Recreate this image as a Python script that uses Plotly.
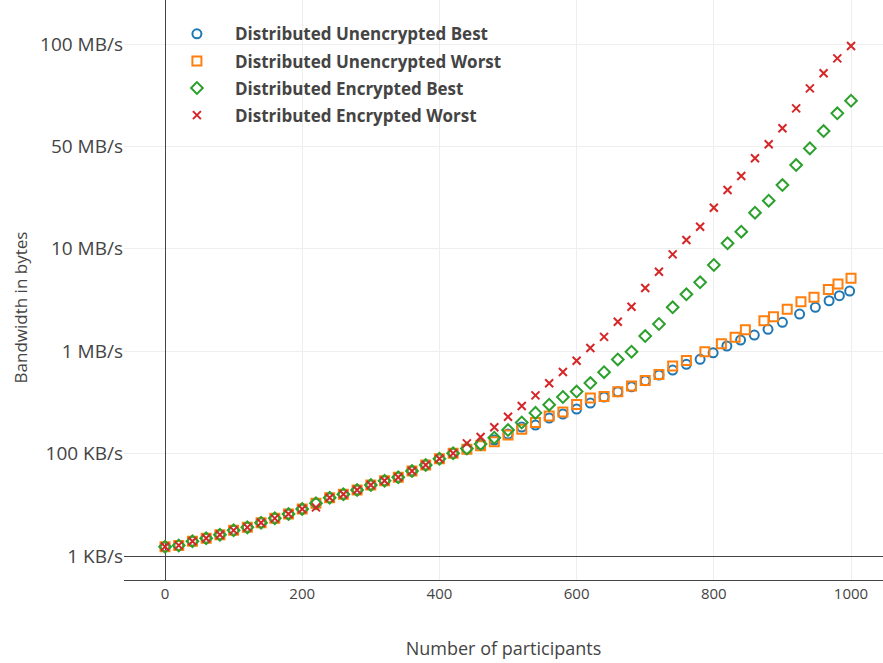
import plotly.graph_objects as go

# Participants (x) shared by the early part of every series
x_common = [0, 20, 40, 60, 80, 100, 120, 140, 160, 180, 200, 220, 240, 260, 280,
            300, 320, 340, 360, 380, 400, 420]
y_common = [0.09, 0.104, 0.144, 0.173, 0.208, 0.251, 0.28, 0.325, 0.368, 0.41, 0.459,
            0.515, 0.569, 0.603, 0.645, 0.693, 0.735, 0.769, 0.83, 0.889, 0.95, 1.003]

# Tail of each series (log-scaled bandwidth, axis units)
ub_x = [440, 460, 480, 500, 520, 540, 560, 580, 600, 620, 640, 660, 680, 700, 720,
        740, 760, 780, 799, 819, 839, 859, 879, 900, 925, 948, 968, 983, 998]
ub_y = [1.042, 1.084, 1.133, 1.191, 1.26, 1.279, 1.348, 1.387, 1.436, 1.494, 1.553,
        1.604, 1.653, 1.712, 1.768, 1.816, 1.872, 1.921, 1.985, 2.051, 2.109, 2.158,
        2.214, 2.282, 2.363, 2.429, 2.493, 2.542, 2.588]

uw_x = [440, 460, 480, 500, 520, 540, 560, 580, 600, 620, 640, 660, 680, 700, 720,
        740, 760, 787, 811, 831, 846, 873, 887, 907, 927, 946, 967, 981, 1000]
uw_y = [1.042, 1.077, 1.116, 1.182, 1.237, 1.304, 1.367, 1.406, 1.479, 1.543, 1.558,
        1.604, 1.66, 1.714, 1.772, 1.855, 1.909, 1.995, 2.073, 2.136, 2.21, 2.298,
        2.337, 2.409, 2.483, 2.526, 2.604, 2.656, 2.712]

eb_x = [440, 460, 480, 500, 520, 540, 560, 580, 600, 620, 640, 660, 680, 700, 720,
        740, 760, 780, 800, 820, 840, 860, 880, 900, 920, 940, 960, 980, 1000]
eb_y = [1.05, 1.094, 1.155, 1.23, 1.304, 1.398, 1.478, 1.553, 1.606, 1.689, 1.795,
        1.92, 1.995, 2.148, 2.266, 2.429, 2.556, 2.673, 2.842, 3.054, 3.167, 3.353,
        3.47, 3.623, 3.818, 3.981, 4.15, 4.323, 4.446]

ew_x = [440, 460, 480, 500, 520, 540, 560, 580, 600, 620, 640, 660, 680, 700, 720,
        740, 760, 780, 800, 820, 840, 860, 880, 900, 920, 940, 960, 980, 1000]
ew_y = [1.1, 1.162, 1.257, 1.36, 1.465, 1.569, 1.687, 1.797, 1.907, 2.031, 2.14,
        2.288, 2.435, 2.618, 2.776, 2.946, 3.086, 3.216, 3.401, 3.574, 3.711, 3.884,
        4.021, 4.177, 4.372, 4.567, 4.714, 4.86, 4.98]
# the worst-case encrypted run dips slightly at 220 participants
ew_early = list(y_common)
ew_early[11] = 0.475

tick_vals = [0, 1, 2, 3, 4, 5]
tick_text = ["1 KB/s", "100 KB/s", "1 MB/s", "10 MB/s", "50 MB/s", "100 MB/s"]

series = [
    ("Distributed Unencrypted Best", x_common + ub_x, y_common + ub_y, "circle-open", "#1f77b4", 9),
    ("Distributed Unencrypted Worst", x_common + uw_x, y_common + uw_y, "square-open", "#ff7f0e", 9),
    ("Distributed Encrypted Best", x_common + eb_x, y_common + eb_y, "diamond-open", "#2ca02c", 9),
    ("Distributed Encrypted Worst", x_common + ew_x, ew_early + ew_y, "x-thin-open", "#d62728", 8),
]

fig = go.Figure()
for name, xs, ys, sym, col, sz in series:
    fig.add_trace(go.Scatter(
        x=xs, y=ys, mode="markers", name=name, legendgroup=name,
        marker=dict(symbol=sym, size=sz, color=col, line=dict(color=col, width=2)),
    ))

fig.update_layout(
    width=883, height=663,
    margin=dict(l=124, r=0, t=0, b=83),
    paper_bgcolor="white", plot_bgcolor="white",
    font=dict(family="Open Sans, sans-serif", color="#444"),
    showlegend=True,
    legend=dict(x=0.046, y=0.972, xanchor="left", yanchor="top",
                font=dict(size=17, weight="bold", color="#444"),
                itemwidth=66, tracegroupgap=2, traceorder="grouped",
                bgcolor="rgba(255,255,255,0)"),
    xaxis=dict(
        range=[-59.8, 1046.6],
        tickvals=[0, 200, 400, 600, 800, 1000],
        tickfont=dict(size=15),
        showgrid=True, gridcolor="#eeeeee",
        zeroline=True, zerolinecolor="#444", zerolinewidth=1,
        showline=True, linecolor="#444", linewidth=1,
        title=dict(text="Number of participants", font=dict(size=18), standoff=40),
    ),
    yaxis=dict(
        range=[-0.234, 5.43],
        tickvals=tick_vals, ticktext=tick_text,
        tickfont=dict(size=19),
        showgrid=True, gridcolor="#eeeeee",
        zeroline=True, zerolinecolor="#444", zerolinewidth=1,
        showline=False,
    ),
    annotations=[dict(
        text="Bandwidth in bytes", textangle=-90, showarrow=False,
        xref="paper", yref="paper", x=-0.137, y=0.47,
        xanchor="center", yanchor="middle", font=dict(size=17, color="#444"),
    )],
)

fig.write_html("out.html")
